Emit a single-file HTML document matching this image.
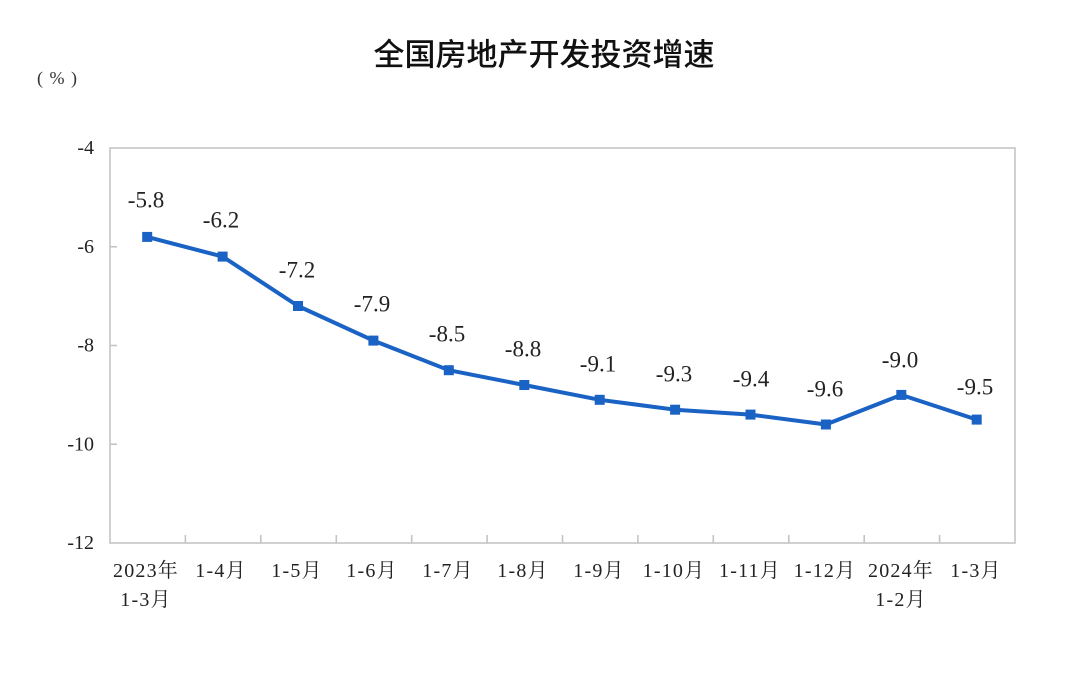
<!DOCTYPE html>
<html>
<head>
<meta charset="utf-8">
<style>
html,body{margin:0;padding:0;background:#fff;}
svg{display:block;}
.yl{font-family:"Liberation Serif","Noto Serif CJK SC",serif;font-size:20px;fill:#222;}
.dl{font-family:"Liberation Serif","Noto Serif CJK SC",serif;font-size:23px;fill:#222;}
.xl{font-family:"Liberation Serif","Noto Serif CJK SC",serif;font-size:20px;fill:#222;letter-spacing:1.2px;}
.pc{font-family:"Liberation Serif","Noto Serif CJK SC",serif;font-size:18px;fill:#333;}
</style>
</head>
<body>
<svg width="1080" height="678" viewBox="0 0 1080 678" xmlns="http://www.w3.org/2000/svg">
<rect x="0" y="0" width="1080" height="678" fill="#fff"/>
<text x="544" y="52" text-anchor="middle" dominant-baseline="central" font-family="'Noto Sans CJK SC','Liberation Sans',sans-serif" font-size="31" font-weight="500" fill="#111">全国房地产开发投资增速</text>
<g class="pc" text-anchor="middle">
<text x="40" y="78" dominant-baseline="central">(</text>
<text x="57" y="78" dominant-baseline="central">%</text>
<text x="74" y="78" dominant-baseline="central">)</text>
</g>

<!-- plot box -->
<rect x="110" y="148" width="905" height="395" fill="none" stroke="#c4c4c4" stroke-width="1.6"/>
<!-- ticks -->
<g stroke="#c4c4c4" stroke-width="1.6">
<line x1="110" y1="246.75" x2="117" y2="246.75"/>
<line x1="110" y1="345.5" x2="117" y2="345.5"/>
<line x1="110" y1="444.25" x2="117" y2="444.25"/>
<line x1="185.4" y1="543" x2="185.4" y2="535"/>
<line x1="260.8" y1="543" x2="260.8" y2="535"/>
<line x1="336.3" y1="543" x2="336.3" y2="535"/>
<line x1="411.7" y1="543" x2="411.7" y2="535"/>
<line x1="487.1" y1="543" x2="487.1" y2="535"/>
<line x1="562.5" y1="543" x2="562.5" y2="535"/>
<line x1="637.9" y1="543" x2="637.9" y2="535"/>
<line x1="713.3" y1="543" x2="713.3" y2="535"/>
<line x1="788.8" y1="543" x2="788.8" y2="535"/>
<line x1="864.2" y1="543" x2="864.2" y2="535"/>
<line x1="939.6" y1="543" x2="939.6" y2="535"/>
</g>

<!-- y labels -->
<g class="yl" text-anchor="end">
<text x="94" y="148" dominant-baseline="central">-4</text>
<text x="94" y="246.75" dominant-baseline="central">-6</text>
<text x="94" y="345.5" dominant-baseline="central">-8</text>
<text x="94" y="444.25" dominant-baseline="central">-10</text>
<text x="94" y="543" dominant-baseline="central">-12</text>
</g>

<!-- series -->
<polyline fill="none" stroke="#1a63c4" stroke-width="4" stroke-linejoin="round" stroke-linecap="round"
points="147.2,236.9 222.6,256.6 298.0,306.0 373.4,340.6 448.8,370.2 524.3,385.0 599.7,399.8 675.1,409.7 750.5,414.6 825.9,424.5 901.3,394.9 976.7,419.6"/>
<g fill="#1a63c4">
<rect x="142.2" y="231.9" width="10" height="10"/>
<rect x="217.6" y="251.6" width="10" height="10"/>
<rect x="293.0" y="301.0" width="10" height="10"/>
<rect x="368.4" y="335.6" width="10" height="10"/>
<rect x="443.8" y="365.2" width="10" height="10"/>
<rect x="519.3" y="380.0" width="10" height="10"/>
<rect x="594.7" y="394.8" width="10" height="10"/>
<rect x="670.1" y="404.7" width="10" height="10"/>
<rect x="745.5" y="409.6" width="10" height="10"/>
<rect x="820.9" y="419.5" width="10" height="10"/>
<rect x="896.3" y="389.9" width="10" height="10"/>
<rect x="971.7" y="414.6" width="10" height="10"/>
</g>

<!-- data labels -->
<g class="dl" text-anchor="middle">
<text x="146" y="200" dominant-baseline="central">-5.8</text>
<text x="221" y="220" dominant-baseline="central">-6.2</text>
<text x="297" y="270" dominant-baseline="central">-7.2</text>
<text x="372" y="304" dominant-baseline="central">-7.9</text>
<text x="447" y="334" dominant-baseline="central">-8.5</text>
<text x="523" y="349" dominant-baseline="central">-8.8</text>
<text x="598" y="364" dominant-baseline="central">-9.1</text>
<text x="674" y="374" dominant-baseline="central">-9.3</text>
<text x="751" y="379" dominant-baseline="central">-9.4</text>
<text x="825" y="389" dominant-baseline="central">-9.6</text>
<text x="900" y="360" dominant-baseline="central">-9.0</text>
<text x="975" y="387" dominant-baseline="central">-9.5</text>
</g>

<!-- x labels -->
<g class="xl" text-anchor="middle">
<text x="146" y="571" dominant-baseline="central">2023年</text>
<text x="146" y="600" dominant-baseline="central">1-3月</text>
<text x="221" y="571" dominant-baseline="central">1-4月</text>
<text x="297" y="571" dominant-baseline="central">1-5月</text>
<text x="372" y="571" dominant-baseline="central">1-6月</text>
<text x="448" y="571" dominant-baseline="central">1-7月</text>
<text x="523" y="571" dominant-baseline="central">1-8月</text>
<text x="599" y="571" dominant-baseline="central">1-9月</text>
<text x="674" y="571" dominant-baseline="central">1-10月</text>
<text x="750" y="571" dominant-baseline="central">1-11月</text>
<text x="825" y="571" dominant-baseline="central">1-12月</text>
<text x="901" y="571" dominant-baseline="central">2024年</text>
<text x="901" y="600" dominant-baseline="central">1-2月</text>
<text x="976" y="571" dominant-baseline="central">1-3月</text>
</g>
</svg>
</body>
</html>
